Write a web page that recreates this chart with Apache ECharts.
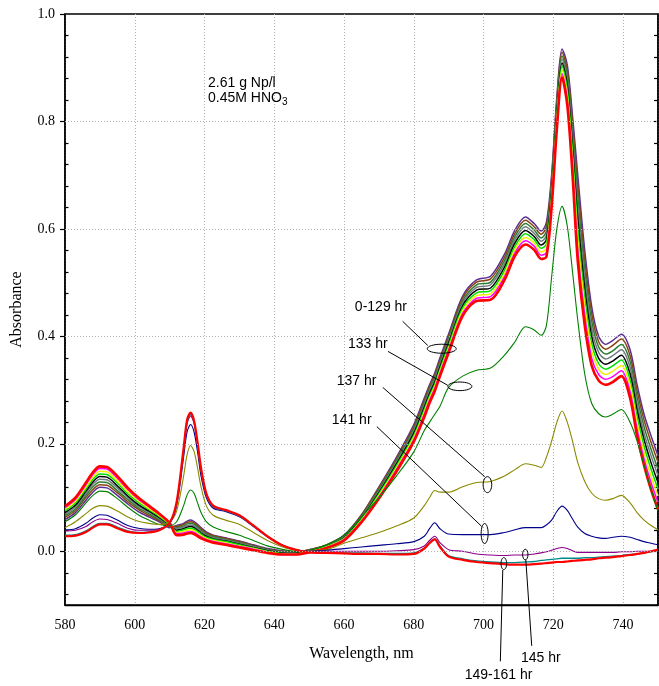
<!DOCTYPE html>
<html><head><meta charset="utf-8">
<script src="https://cdn.jsdelivr.net/npm/echarts@6/dist/echarts.min.js"></script>
<style>html,body{margin:0;padding:0;background:#fff}#c{width:659px;height:686px}</style>
</head><body><div id="c"></div>
<script>
// ---- data ----
const wavelengths = [580,583,586,588,590,592,595,598,601,604,607,610,612,614,615,616,617,618,619,620.5,622.5,626,630,634,638,642,646,650,655,660,665,670,675,680,683,684.5,686,687.5,690,694,698,702,706,709,712,714.5,716.5,718,719.5,721,722.5,724,725.5,727,729,731,733,735,737,739.5,742,744,746,748,750];

// 0-129 hr family (band of spectra)
const band0 = [.059,.072,.095,.110,.119,.118,.104,.088,.074,.064,.055,.044,
 .048,.052,.056,.058,.055,.050,.044,.036,.030,.025,.019,.012,.005,.001,-.001,.003,.012,.030,.068,.120,.175,.236,.285,.310,.332,.360,.405,.475,.505,.512,.553,.598,.622,.610,.596,.612,.700,.845,.935,.905,.810,.700,.560,.455,.400,.385,.392,.404,.375,.310,.255,.215,.178];
const band1 = [.063,.076,.100,.115,.124,.123,.109,.092,.078,.067,.057,.046,
 .046,.050,.054,.055,.053,.048,.042,.034,.029,.024,.018,.011,.004,.000,-.002,.003,.012,.029,.067,.118,.172,.232,.281,.306,.328,.356,.401,.471,.501,.507,.547,.592,.616,.604,.590,.604,.693,.838,.929,.896,.797,.680,.543,.442,.390,.376,.383,.395,.364,.299,.244,.203,.166];
const band2 = [.066,.079,.104,.120,.129,.128,.113,.096,.081,.070,.059,.047,
 .044,.047,.051,.052,.050,.045,.039,.032,.027,.022,.016,.010,.003,-.001,-.003,.002,.011,.028,.065,.115,.169,.228,.277,.302,.324,.352,.397,.466,.496,.501,.541,.586,.610,.598,.583,.596,.685,.830,.922,.887,.783,.660,.525,.428,.380,.367,.373,.385,.353,.287,.232,.190,.153];
const band3 = [.069,.083,.108,.125,.134,.133,.118,.100,.084,.073,.061,.048,
 .042,.045,.048,.049,.047,.042,.037,.030,.025,.021,.015,.009,.002,-.002,-.004,.002,.010,.027,.063,.112,.166,.224,.273,.298,.320,.348,.393,.462,.491,.496,.535,.580,.604,.592,.577,.588,.678,.823,.916,.878,.769,.640,.508,.414,.370,.358,.364,.375,.342,.275,.220,.178,.141];
const band4 = [.072,.086,.112,.129,.139,.138,.122,.103,.087,.075,.063,.049,
 .039,.042,.045,.046,.044,.039,.034,.028,.023,.019,.013,.007,.001,-.003,-.004,.001,.009,.025,.061,.109,.162,.220,.268,.293,.315,.343,.388,.457,.486,.490,.529,.574,.597,.586,.570,.580,.670,.815,.909,.868,.755,.620,.490,.400,.359,.348,.354,.365,.330,.263,.208,.165,.128];
const band5 = [.075,.090,.116,.134,.144,.143,.127,.107,.091,.078,.065,.050,
 .037,.040,.042,.043,.041,.037,.032,.026,.022,.018,.012,.006,.000,-.004,-.005,.000,.009,.024,.060,.107,.159,.216,.264,.289,.311,.339,.384,.453,.481,.485,.523,.568,.591,.580,.564,.572,.663,.808,.903,.859,.742,.600,.473,.387,.349,.339,.345,.356,.319,.251,.196,.153,.116];
const band6 = [.078,.093,.120,.138,.149,.148,.131,.111,.094,.080,.067,.051,
 .035,.037,.039,.040,.038,.034,.029,.024,.020,.016,.010,.005,-.001,-.005,-.005,-.001,.008,.023,.058,.104,.155,.212,.259,.285,.307,.335,.379,.448,.476,.479,.517,.562,.584,.574,.557,.564,.655,.800,.896,.849,.728,.580,.455,.373,.339,.329,.335,.346,.308,.239,.184,.140,.103];
const band7 = [.081,.097,.124,.143,.154,.153,.136,.115,.097,.083,.069,.052,
 .033,.034,.036,.037,.035,.031,.027,.022,.018,.014,.009,.004,-.002,-.006,-.006,-.002,.007,.022,.056,.101,.152,.208,.255,.281,.303,.331,.375,.443,.471,.474,.511,.556,.578,.568,.551,.556,.648,.793,.889,.840,.714,.560,.438,.359,.329,.320,.325,.336,.297,.227,.172,.128,.091];
const band8 = [.084,.100,.128,.147,.158,.157,.140,.118,.100,.085,.070,.053,
 .030,.031,.033,.034,.032,.028,.024,.020,.016,.012,.007,.002,-.003,-.006,-.006,-.002,.006,.020,.054,.098,.148,.204,.250,.276,.298,.326,.370,.438,.466,.468,.505,.550,.571,.561,.544,.548,.640,.785,.882,.830,.700,.540,.420,.345,.318,.310,.315,.326,.285,.215,.160,.115,.078];

const hr133 = [.055,.068,.090,.104,.112,.111,.098,.082,.068,.058,.050,.048,
 .055,.085,.105,.114,.108,.090,.072,.055,.045,.037,.030,.020,.010,.004,.000,.002,.012,.030,.064,.100,.140,.185,.225,.240,.255,.270,.305,.326,.337,.341,.365,.390,.418,.412,.402,.420,.510,.600,.642,.605,.520,.430,.330,.275,.256,.250,.255,.264,.240,.205,.160,.115,.075];
const hr137 = [.044,.055,.070,.080,.085,.084,.075,.064,.056,.052,.050,.055,
 .075,.140,.180,.197,.186,.155,.120,.085,.067,.058,.050,.035,.020,.009,.002,.001,.003,.015,.025,.035,.047,.062,.085,.100,.113,.110,.110,.120,.128,.130,.140,.152,.163,.160,.156,.175,.205,.240,.261,.240,.205,.165,.130,.108,.098,.095,.098,.104,.090,.072,.058,.048,.040];
const hr141 = [.040,.042,.052,.062,.068,.067,.058,.048,.043,.041,.042,.052,
 .085,.175,.222,.236,.222,.185,.140,.100,.080,.074,.064,.046,.027,.012,.003,.000,.002,.005,.008,.011,.014,.018,.028,.042,.053,.042,.032,.031,.031,.031,.035,.040,.044,.044,.044,.049,.058,.074,.084,.076,.060,.045,.033,.028,.025,.024,.026,.028,.026,.022,.018,.015,.012];
const hr145 = [.038,.039,.046,.055,.060,.059,.052,.043,.039,.039,.041,.053,
 .090,.185,.237,.252,.238,.198,.150,.105,.082,.076,.066,.047,.028,.012,.003,.000,.000,.000,.000,.000,.001,.003,.010,.020,.028,.016,.003,.000,-.005,-.007,-.008,-.007,-.007,-.005,-.003,-.001,.002,.005,.007,.005,.001,-.002,-.002,-.002,-.002,-.002,-.002,-.001,-.001,.000,.000,.000,.000];
const hr149 = [.030,.031,.038,.046,.052,.052,.045,.038,.035,.036,.039,.052,
 .090,.188,.240,.255,.240,.200,.152,.106,.083,.076,.066,.047,.028,.012,.003,-.001,-.002,-.003,-.003,-.004,-.004,-.003,.006,.016,.023,.010,-.008,-.014,-.018,-.020,-.021,-.021,-.020,-.019,-.017,-.016,-.015,-.014,-.013,-.013,-.013,-.013,-.012,-.012,-.011,-.010,-.009,-.008,-.006,-.005,-.003,-.001,.001];
const hr161 = [.028,.029,.036,.044,.050,.050,.043,.036,.034,.035,.039,.053,
 .092,.192,.245,.258,.243,.203,.155,.108,.085,.077,.067,.048,.028,.012,.003,-.002,-.003,-.004,-.005,-.005,-.006,-.005,.005,.015,.022,.008,-.010,-.016,-.020,-.022,-.024,-.025,-.025,-.024,-.023,-.022,-.021,-.020,-.020,-.019,-.018,-.017,-.016,-.015,-.013,-.012,-.011,-.009,-.007,-.005,-.003,.000,.003];

const yMajorTicks = [0, 0.2, 0.4, 0.6, 0.8, 1.0];
const yMinorTicks = [-0.08,-0.04,0.04,0.08,0.12,0.16,0.24,0.28,0.32,0.36,0.44,0.48,0.52,0.56,0.64,0.68,0.72,0.76,0.84,0.88,0.92,0.96];
const yAllTicks = [-0.08,-0.04,0,0.04,0.08,0.12,0.16,0.2,0.24,0.28,0.32,0.36,0.4,0.44,0.48,0.52,0.56,0.6,0.64,0.68,0.72,0.76,0.8,0.84,0.88,0.92,0.96];
const yGridValues = [0, 0.2, 0.4, 0.6, 0.8];

// ---- styling / layout ----
const bandSeries = [
  {d: band0, c: '#5b2f94', w: 1.5},
  {d: band1, c: '#8b4513', w: 1.5},
  {d: band2, c: '#2e7d32', w: 1.5},
  {d: band3, c: '#707880', w: 1.5},
  {d: band4, c: '#000000', w: 1.5},
  {d: band5, c: '#00e000', w: 1.5},
  {d: band6, c: '#f0f000', w: 1.5},
  {d: band7, c: '#ff00ff', w: 1.5},
  {d: band8, c: '#ff0000', w: 2.6}
];
const lateSeries = [
  {n: '133 hr', d: hr133, c: '#008000', w: 1.1},
  {n: '137 hr', d: hr137, c: '#8a8a00', w: 1.1},
  {n: '141 hr', d: hr141, c: '#00008b', w: 1.1},
  {n: '145 hr', d: hr145, c: '#8b008b', w: 1.1},
  {n: '149 hr', d: hr149, c: '#008b8b', w: 1.3},
  {n: '161 hr', d: hr161, c: '#ff0000', w: 2.2}
];

const serif = '"Liberation Serif", "Times New Roman", serif';
const sans = '"Liberation Sans", Arial, sans-serif';
const gridDash = {type: [1, 2], color: '#b0b0b0', width: 1};

function toPairs(arr){ return wavelengths.map((w, i) => [w, arr[i]]); }

const series = [];
bandSeries.forEach((b, i) => {
  const s = {
    type: 'line', data: toPairs(b.d), showSymbol: false, smooth: 0.3,
    lineStyle: {color: b.c, width: b.w}, itemStyle: {color: b.c},
    silent: true, animation: false, z: 3
  };
  if (i === 0) {
    s.markLine = {
      silent: true, symbol: 'none', animation: false, label: {show: false},
      lineStyle: gridDash,
      data: yGridValues.map(v => ({yAxis: v}))
    };
  }
  series.push(s);
});
lateSeries.forEach(l => {
  series.push({
    type: 'line', name: l.n, data: toPairs(l.d), showSymbol: false, smooth: 0.3,
    lineStyle: {color: l.c, width: l.w}, itemStyle: {color: l.c},
    silent: true, animation: false, z: 4
  });
});

const chart = echarts.init(document.getElementById('c'), null, {renderer: 'canvas'});
chart.setOption({
  animation: false,
  backgroundColor: '#fff',
  grid: {left: 65, right: 1, top: 14, bottom: 81, show: true, borderColor: '#000', borderWidth: 1.5},
  xAxis: {
    type: 'value', min: 580, max: 750, interval: 20,
    name: 'Wavelength, nm', nameLocation: 'middle', nameGap: 41,
    nameTextStyle: {fontFamily: serif, fontSize: 16, color: '#000'},
    axisLine: {show: true, onZero: false, lineStyle: {color: '#000', width: 1.3}},
    axisTick: {show: false},
    axisLabel: {fontFamily: serif, fontSize: 14, color: '#000', margin: 13, showMaxLabel: false},
    splitLine: {show: true, lineStyle: gridDash}
  },
  yAxis: [
    {
      type: 'value', min: -0.1, max: 1.0, position: 'left',
      name: 'Absorbance', nameLocation: 'middle', nameGap: 40, nameRotate: 90,
      nameTextStyle: {fontFamily: serif, fontSize: 16, color: '#000'},
      axisLine: {show: true, onZero: false, lineStyle: {color: '#000', width: 1.5}},
      axisTick: {show: true, inside: false, length: 5, customValues: yMajorTicks, lineStyle: {color: '#000', width: 1.2}},
      axisLabel: {customValues: yMajorTicks, formatter: v => v.toFixed(1), fontFamily: serif, fontSize: 14, color: '#000', margin: 10},
      splitLine: {show: false}
    },
    {
      type: 'value', min: -0.1, max: 1.0, position: 'left',
      axisLine: {show: false},
      axisTick: {show: true, inside: true, length: 3.5, customValues: yMinorTicks, lineStyle: {color: '#000', width: 1.2}},
      axisLabel: {show: false},
      splitLine: {show: false}
    },
    {
      type: 'value', min: -0.1, max: 1.0, position: 'right',
      axisLine: {show: true, onZero: false, lineStyle: {color: '#000', width: 1.5}},
      axisTick: {show: true, inside: true, length: 4, customValues: yAllTicks, lineStyle: {color: '#000', width: 1.2}},
      axisLabel: {show: false},
      splitLine: {show: false}
    }
  ],
  series: series
});

// ---- annotations (anchored in data coordinates) ----
const callouts = [
  {label: '0-129 hr', text: [663.1, 0.454], from: [676.8, 0.428], to: [684.0, 0.383], ell: [688.0, 0.377], rx: 14.5, ry: 4.5},
  {label: '133 hr', text: [661.1, 0.385], from: [672.6, 0.372], to: [689.7, 0.309], ell: [693.2, 0.307], rx: 12, ry: 4.3},
  {label: '137 hr', text: [657.9, 0.316], from: [671.1, 0.305], to: [700.3, 0.139], ell: [701.1, 0.124], rx: 4.3, ry: 8},
  {label: '141 hr', text: [656.5, 0.245], from: [669.4, 0.232], to: [699.5, 0.046], ell: [700.3, 0.033], rx: 3.5, ry: 10},
  {label: '145 hr', text: [710.7, -0.198], from: [713.8, -0.176], to: [712.1, -0.0155], ell: [711.95, -0.0061], rx: 2.7, ry: 5.3},
  {label: '149-161 hr', text: [694.6, -0.231], from: [704.8, -0.205], to: [705.5, -0.0348], ell: [705.8, -0.0229], rx: 2.8, ry: 6}
];
const infoAnchor1 = [621.0, 0.871];
const infoAnchor2 = [621.0, 0.843];

const P = pt => chart.convertToPixel({gridIndex: 0}, pt);
const g = [];
callouts.forEach(c => {
  const t = P(c.text), a = P(c.from), b = P(c.to), e = P(c.ell);
  g.push({type: 'text', silent: true, z: 100, style: {text: c.label, x: t[0], y: t[1], font: '14px ' + sans, fill: '#000', align: 'left', verticalAlign: 'middle', textAlign: 'left', textVerticalAlign: 'middle'}});
  g.push({type: 'line', silent: true, z: 100, shape: {x1: a[0], y1: a[1], x2: b[0], y2: b[1]}, style: {stroke: '#000', lineWidth: 1}});
  g.push({type: 'ellipse', silent: true, z: 100, shape: {cx: e[0], cy: e[1], rx: c.rx, ry: c.ry}, style: {fill: 'none', stroke: '#000', lineWidth: 1}});
});
const i1 = P(infoAnchor1), i2 = P(infoAnchor2);
g.push({type: 'text', silent: true, z: 100, style: {text: '2.61 g Np/l', x: i1[0], y: i1[1], font: '14px ' + sans, fill: '#000', align: 'left', verticalAlign: 'middle', textAlign: 'left', textVerticalAlign: 'middle'}});
g.push({type: 'text', silent: true, z: 100, style: {
  text: '{a|0.45M HNO}{s|3}', x: i2[0], y: i2[1], align: 'left', verticalAlign: 'middle', textAlign: 'left', textVerticalAlign: 'middle',
  rich: {a: {fontFamily: sans, fontSize: 14, fill: '#000', color: '#000'}, s: {fontFamily: sans, fontSize: 10, fill: '#000', color: '#000', padding: [8, 0, 0, 0]}}
}});
chart.setOption({graphic: g});
</script>
</body></html>
